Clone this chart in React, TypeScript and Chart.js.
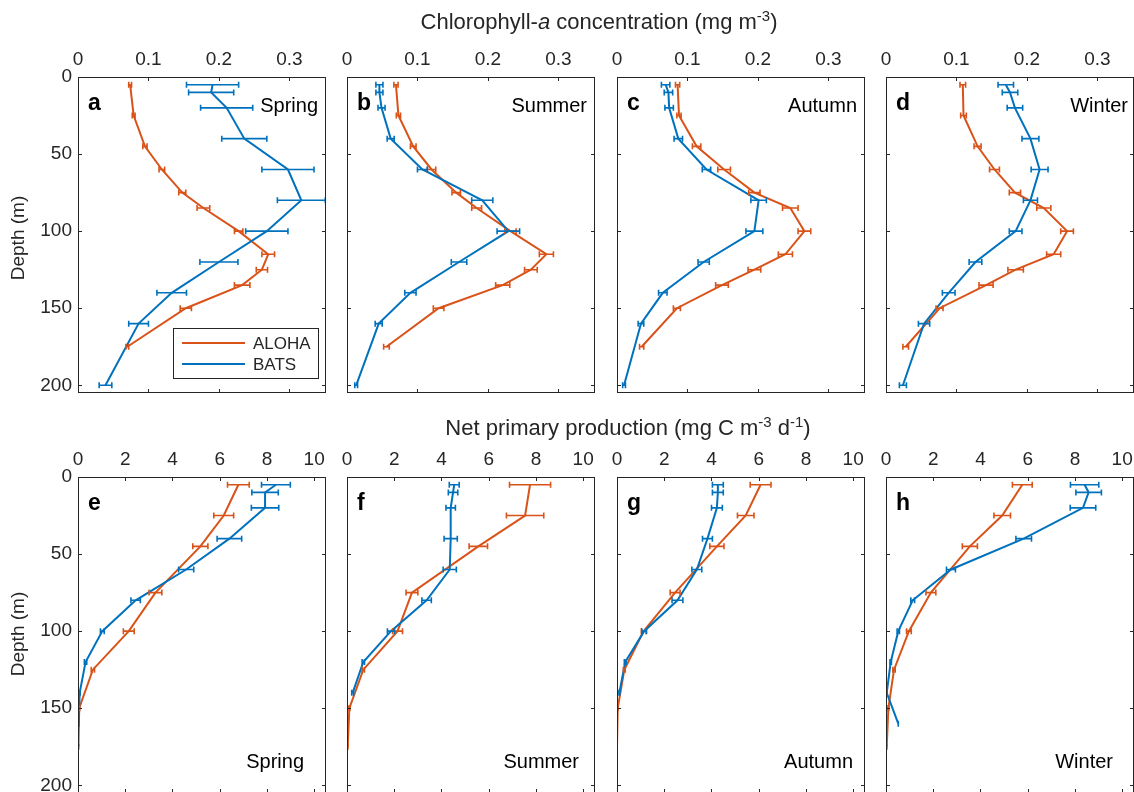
import React, { useEffect, useRef } from "react";
import { Chart, registerables } from "chart.js";

Chart.register(...registerables);

const FONT = '"Liberation Sans", Arial, Helvetica, sans-serif';
const ORANGE = "#D95319";
const BLUE = "#0072BD";
const AXIS = "#262626";

// ---- axes ----
const chlTicks = [0, 0.1, 0.2, 0.3];
const nppTicks = [0, 2, 4, 6, 8, 10];
const depthTicks = [0, 50, 100, 150, 200];
const CHL_MAX = 0.352;
const NPP_MAX = 10.5;
const DEPTH_MAX = 205;

// ---- depths (m) ----
const alohaChlDepth = [5, 25, 45, 60, 75, 85, 100, 115, 125, 135, 150, 175];
const batsChlDepth = [5, 10, 20, 40, 60, 80, 100, 120, 140, 160, 200];
const alohaNppDepth = [5, 25, 45, 75, 100, 125, 150, 175];
const batsNppDepth = [5, 10, 20, 40, 60, 80, 100, 120, 140, 160];

const seasons = ["Spring", "Summer", "Autumn", "Winter"];
const chlLetters = ["a", "b", "c", "d"];
const nppLetters = ["e", "f", "g", "h"];

// ---- Chlorophyll-a (mg m-3) ----
const alohaChlSpring = [0.074, 0.079, 0.095, 0.119, 0.148, 0.178, 0.228, 0.27, 0.261, 0.233, 0.153, 0.07];
const alohaChlSpringErr = [0.002, 0.002, 0.003, 0.004, 0.005, 0.009, 0.006, 0.009, 0.008, 0.011, 0.008, 0.002];
const batsChlSpring = [0.191, 0.189, 0.211, 0.236, 0.298, 0.317, 0.268, 0.2, 0.133, 0.086, 0.039];
const batsChlSpringErr = [0.037, 0.032, 0.037, 0.032, 0.037, 0.034, 0.03, 0.027, 0.021, 0.014, 0.009];

const alohaChlSummer = [0.0695, 0.073, 0.094, 0.12, 0.155, 0.184, 0.232, 0.283, 0.261, 0.221, 0.13, 0.056];
const alohaChlSummerErr = [0.003, 0.003, 0.004, 0.006, 0.006, 0.007, 0.008, 0.01, 0.009, 0.01, 0.0075, 0.004];
const batsChlSummer = [0.046, 0.046, 0.049, 0.062, 0.107, 0.192, 0.229, 0.159, 0.09, 0.045, 0.013];
const batsChlSummerErr = [0.005, 0.005, 0.005, 0.005, 0.007, 0.015, 0.016, 0.011, 0.008, 0.005, 0.002];

const alohaChlAutumn = [0.086, 0.088, 0.113, 0.152, 0.195, 0.246, 0.266, 0.239, 0.195, 0.149, 0.085, 0.035];
const alohaChlAutumnErr = [0.003, 0.003, 0.006, 0.009, 0.008, 0.011, 0.009, 0.01, 0.009, 0.009, 0.005, 0.003];
const batsChlAutumn = [0.069, 0.073, 0.074, 0.087, 0.127, 0.201, 0.195, 0.123, 0.065, 0.034, 0.01];
const batsChlAutumnErr = [0.006, 0.006, 0.006, 0.006, 0.006, 0.011, 0.012, 0.008, 0.006, 0.004, 0.002];

const alohaChlWinter = [0.109, 0.11, 0.13, 0.154, 0.183, 0.224, 0.257, 0.238, 0.184, 0.142, 0.076, 0.028];
const alohaChlWinterErr = [0.004, 0.004, 0.005, 0.007, 0.008, 0.01, 0.009, 0.01, 0.011, 0.01, 0.005, 0.004];
const batsChlWinter = [0.17, 0.176, 0.183, 0.205, 0.218, 0.205, 0.184, 0.127, 0.089, 0.054, 0.024];
const batsChlWinterErr = [0.011, 0.011, 0.011, 0.012, 0.012, 0.01, 0.009, 0.009, 0.009, 0.008, 0.005];

// ---- Net primary production (mg C m-3 d-1) ----
const alohaNppSpring = [6.79, 6.17, 5.18, 3.28, 2.15, 0.63, 0.05, 0.02];
const alohaNppSpringErr = [0.46, 0.42, 0.32, 0.27, 0.23, 0.07, 0.02, 0.01];
const batsNppSpring = [8.38, 7.92, 7.92, 6.41, 4.58, 2.44, 1.03, 0.32, 0.07, 0.03];
const batsNppSpringErr = [0.61, 0.56, 0.58, 0.52, 0.32, 0.2, 0.08, 0.05, 0.02, 0.01];

const alohaNppSummer = [7.75, 7.54, 5.56, 2.75, 2.14, 0.69, 0.1, 0.03];
const alohaNppSummerErr = [0.87, 0.79, 0.39, 0.25, 0.21, 0.05, 0.02, 0.01];
const batsNppSummer = [4.54, 4.49, 4.39, 4.39, 4.35, 3.37, 1.86, 0.69, 0.24];
const batsNppSummerErr = [0.21, 0.2, 0.2, 0.28, 0.28, 0.2, 0.15, 0.05, 0.04];

const alohaNppAutumn = [6.08, 5.45, 4.23, 2.46, 1.13, 0.31, 0.03, 0.0];
const alohaNppAutumnErr = [0.44, 0.35, 0.3, 0.21, 0.1, 0.04, 0.01, 0.0];
const batsNppAutumn = [4.27, 4.27, 4.23, 3.83, 3.38, 2.56, 1.15, 0.35, 0.1];
const batsNppAutumnErr = [0.23, 0.23, 0.23, 0.21, 0.21, 0.23, 0.1, 0.04, 0.02];

const alohaNppWinter = [5.77, 4.92, 3.55, 1.9, 0.97, 0.34, 0.1, 0.03];
const alohaNppWinterErr = [0.42, 0.35, 0.32, 0.21, 0.1, 0.05, 0.02, 0.01];
const batsNppWinter = [8.41, 8.58, 8.34, 5.83, 2.75, 1.13, 0.52, 0.2, 0.03, 0.52];
const batsNppWinterErr = [0.6, 0.54, 0.54, 0.33, 0.19, 0.08, 0.05, 0.03, 0.01, 0.0];

// ---- layout ----
const COL_LEFT = [78, 347, 617, 886];
const ROW_TOP = [77, 477];
const PLOT_W = 248;
const PLOT_H = 316;
const L = 62;
const T = 45;
const R = 10;
const B = 10;
const SEASON_INSET = [[8, 8, 8, 6], [22, 16, 12, 21]];

type PanelCfg = {
  row: number;
  col: number;
  letter: string;
  season: string;
  aloha: number[];
  alohaErr: number[];
  bats: number[];
  batsErr: number[];
  alohaDepth: number[];
  batsDepth: number[];
  legend: boolean;
};

const panels: PanelCfg[] = [
  { row: 0, col: 0, letter: chlLetters[0], season: seasons[0], aloha: alohaChlSpring, alohaErr: alohaChlSpringErr, bats: batsChlSpring, batsErr: batsChlSpringErr, alohaDepth: alohaChlDepth, batsDepth: batsChlDepth, legend: true },
  { row: 0, col: 1, letter: chlLetters[1], season: seasons[1], aloha: alohaChlSummer, alohaErr: alohaChlSummerErr, bats: batsChlSummer, batsErr: batsChlSummerErr, alohaDepth: alohaChlDepth, batsDepth: batsChlDepth, legend: false },
  { row: 0, col: 2, letter: chlLetters[2], season: seasons[2], aloha: alohaChlAutumn, alohaErr: alohaChlAutumnErr, bats: batsChlAutumn, batsErr: batsChlAutumnErr, alohaDepth: alohaChlDepth, batsDepth: batsChlDepth, legend: false },
  { row: 0, col: 3, letter: chlLetters[3], season: seasons[3], aloha: alohaChlWinter, alohaErr: alohaChlWinterErr, bats: batsChlWinter, batsErr: batsChlWinterErr, alohaDepth: alohaChlDepth, batsDepth: batsChlDepth, legend: false },
  { row: 1, col: 0, letter: nppLetters[0], season: seasons[0], aloha: alohaNppSpring, alohaErr: alohaNppSpringErr, bats: batsNppSpring, batsErr: batsNppSpringErr, alohaDepth: alohaNppDepth, batsDepth: batsNppDepth, legend: false },
  { row: 1, col: 1, letter: nppLetters[1], season: seasons[1], aloha: alohaNppSummer, alohaErr: alohaNppSummerErr, bats: batsNppSummer, batsErr: batsNppSummerErr, alohaDepth: alohaNppDepth, batsDepth: batsNppDepth, legend: false },
  { row: 1, col: 2, letter: nppLetters[2], season: seasons[2], aloha: alohaNppAutumn, alohaErr: alohaNppAutumnErr, bats: batsNppAutumn, batsErr: batsNppAutumnErr, alohaDepth: alohaNppDepth, batsDepth: batsNppDepth, legend: false },
  { row: 1, col: 3, letter: nppLetters[3], season: seasons[3], aloha: alohaNppWinter, alohaErr: alohaNppWinterErr, bats: batsNppWinter, batsErr: batsNppWinterErr, alohaDepth: alohaNppDepth, batsDepth: batsNppDepth, legend: false },
];

function Panel({ cfg }: { cfg: PanelCfg }) {
  const ref = useRef<HTMLCanvasElement>(null);
  const width = L + PLOT_W + R;
  const height = T + PLOT_H + B;

  useEffect(() => {
    const canvas = ref.current;
    if (!canvas) return;
    const isChl = cfg.row === 0;
    const xTicks = isChl ? chlTicks : nppTicks;
    const xMax = isChl ? CHL_MAX : NPP_MAX;

    const decor = {
      id: "decor",
      afterDatasetsDraw(chart: any) {
        const ctx = chart.ctx as CanvasRenderingContext2D;
        const xs = chart.scales.x;
        const ys = chart.scales.y;
        const ca = chart.chartArea;
        ctx.save();
        ctx.beginPath();
        ctx.rect(ca.left, ca.top, ca.right - ca.left, ca.bottom - ca.top);
        ctx.clip();
        chart.data.datasets.forEach((ds: any) => {
          ctx.strokeStyle = ds.borderColor;
          ctx.lineWidth = 1.6;
          ds.data.forEach((p: any, j: number) => {
            const e = ds.errs[j] || 0;
            const py = ys.getPixelForValue(p.y);
            const x1 = xs.getPixelForValue(p.x - e);
            const x2 = xs.getPixelForValue(p.x + e);
            ctx.beginPath();
            ctx.moveTo(x1, py);
            ctx.lineTo(x2, py);
            ctx.moveTo(x1, py - 3);
            ctx.lineTo(x1, py + 3);
            ctx.moveTo(x2, py - 3);
            ctx.lineTo(x2, py + 3);
            ctx.stroke();
          });
        });
        ctx.restore();
      },
      afterDraw(chart: any) {
        const ctx = chart.ctx as CanvasRenderingContext2D;
        const xs = chart.scales.x;
        const ys = chart.scales.y;
        const ca = chart.chartArea;
        ctx.save();
        // box
        ctx.strokeStyle = AXIS;
        ctx.lineWidth = 1;
        ctx.strokeRect(ca.left + 0.5, ca.top + 0.5, ca.right - ca.left - 1, ca.bottom - ca.top - 1);
        // inward ticks
        ctx.beginPath();
        xTicks.forEach((v) => {
          const px = Math.round(xs.getPixelForValue(v)) + 0.5;
          ctx.moveTo(px, ca.top);
          ctx.lineTo(px, ca.top + 4);
          ctx.moveTo(px, ca.bottom);
          ctx.lineTo(px, ca.bottom - 4);
        });
        depthTicks.forEach((v) => {
          const py = Math.round(ys.getPixelForValue(v)) + 0.5;
          ctx.moveTo(ca.left, py);
          ctx.lineTo(ca.left + 4, py);
          ctx.moveTo(ca.right, py);
          ctx.lineTo(ca.right - 4, py);
        });
        ctx.stroke();
        // panel letter
        ctx.fillStyle = "#000";
        ctx.font = `bold 23px ${FONT}`;
        ctx.textAlign = "left";
        ctx.textBaseline = "alphabetic";
        ctx.fillText(cfg.letter, ca.left + 10, ca.top + 33);
        // season
        ctx.font = `20px ${FONT}`;
        ctx.textAlign = "right";
        const inset = SEASON_INSET[cfg.row][cfg.col];
        const baseY = cfg.row === 0 ? ca.top + 35 : ca.top + 291;
        ctx.fillText(cfg.season, ca.right - inset, baseY);
        // legend
        if (cfg.legend) {
          const bx = ca.right - 153;
          const by = ca.bottom - 65;
          ctx.fillStyle = "#fff";
          ctx.fillRect(bx, by, 145, 50);
          ctx.strokeStyle = AXIS;
          ctx.lineWidth = 1;
          ctx.strokeRect(bx + 0.5, by + 0.5, 145, 50);
          ctx.font = `17px ${FONT}`;
          ctx.textAlign = "left";
          ctx.textBaseline = "middle";
          chart.data.datasets.forEach((ds: any, i: number) => {
            const ly = by + 15 + i * 21;
            ctx.strokeStyle = ds.borderColor;
            ctx.lineWidth = 2;
            ctx.beginPath();
            ctx.moveTo(bx + 9, ly);
            ctx.lineTo(bx + 72, ly);
            ctx.stroke();
            ctx.fillStyle = AXIS;
            ctx.fillText(ds.label, bx + 80, ly + 1);
          });
        }
        ctx.restore();
      },
    };

    const tickFont = { family: FONT, size: 19 };
    const chart = new Chart(canvas, {
      type: "scatter",
      data: {
        datasets: [
          {
            label: "ALOHA",
            data: cfg.aloha.map((v, i) => ({ x: v, y: cfg.alohaDepth[i] })),
            errs: cfg.alohaErr,
            borderColor: ORANGE,
            backgroundColor: ORANGE,
            borderWidth: 2,
            showLine: true,
            pointRadius: 0,
            tension: 0,
            order: 1,
          } as any,
          {
            label: "BATS",
            data: cfg.bats.map((v, i) => ({ x: v, y: cfg.batsDepth[i] })),
            errs: cfg.batsErr,
            borderColor: BLUE,
            backgroundColor: BLUE,
            borderWidth: 2,
            showLine: true,
            pointRadius: 0,
            tension: 0,
            order: 0,
          } as any,
        ],
      },
      options: {
        responsive: false,
        animation: false,
        events: [],
        layout: { padding: { left: 0, top: 0, right: R, bottom: B } },
        plugins: { legend: { display: false }, tooltip: { enabled: false } },
        scales: {
          x: {
            type: "linear",
            position: "top",
            min: 0,
            max: xMax,
            grid: { display: false, drawTicks: false },
            border: { display: false },
            ticks: { font: tickFont, color: AXIS, padding: 6, maxRotation: 0, callback: (v: any) => String(v) },
            afterBuildTicks: (s: any) => {
              s.ticks = xTicks.map((v) => ({ value: v }));
            },
            afterFit: (s: any) => {
              s.height = T;
              s.paddingLeft = 0;
              s.paddingRight = 0;
            },
          },
          y: {
            type: "linear",
            reverse: true,
            min: 0,
            max: DEPTH_MAX,
            grid: { display: false, drawTicks: false },
            border: { display: false },
            ticks: { display: cfg.col === 0, font: tickFont, color: AXIS, padding: 6, callback: (v: any) => String(v) },
            afterBuildTicks: (s: any) => {
              s.ticks = depthTicks.map((v) => ({ value: v }));
            },
            afterFit: (s: any) => {
              s.width = L;
              s.paddingTop = 0;
              s.paddingBottom = 0;
            },
          },
        },
      } as any,
      plugins: [decor],
    });
    return () => chart.destroy();
  }, [cfg]);

  return (
    <canvas
      ref={ref}
      width={width}
      height={height}
      style={{
        position: "absolute",
        left: COL_LEFT[cfg.col] - L,
        top: ROW_TOP[cfg.row] - T,
        width,
        height,
      }}
    />
  );
}

const textStyle: React.CSSProperties = {
  position: "absolute",
  fontFamily: FONT,
  fontSize: 19,
  color: AXIS,
  whiteSpace: "nowrap",
  lineHeight: "22px",
};
const titleStyle: React.CSSProperties = { ...textStyle, fontSize: 22, lineHeight: "26px" };
const supStyle: React.CSSProperties = { fontSize: "0.68em", position: "relative", top: "-0.55em" };

export default function App() {
  return (
    <div
      style={{
        position: "fixed",
        left: 0,
        top: 0,
        width: 1134,
        height: 792,
        overflow: "hidden",
        background: "#fff",
      }}
    >
      {panels.map((p) => (
        <Panel key={p.letter} cfg={p} />
      ))}
      <div style={{ ...titleStyle, left: 599, top: 9, transform: "translateX(-50%)" }}>
        Chlorophyll-<i>a</i> concentration (mg m<span style={supStyle}>-3</span>)
      </div>
      <div style={{ ...titleStyle, left: 628, top: 415, transform: "translateX(-50%)" }}>
        Net primary production (mg C m<span style={supStyle}>-3</span> d<span style={supStyle}>-1</span>)
      </div>
      <div style={{ ...textStyle, left: 18, top: 238, transform: "translate(-50%, -50%) rotate(-90deg)" }}>Depth (m)</div>
      <div style={{ ...textStyle, left: 18, top: 634, transform: "translate(-50%, -50%) rotate(-90deg)" }}>Depth (m)</div>
    </div>
  );
}
